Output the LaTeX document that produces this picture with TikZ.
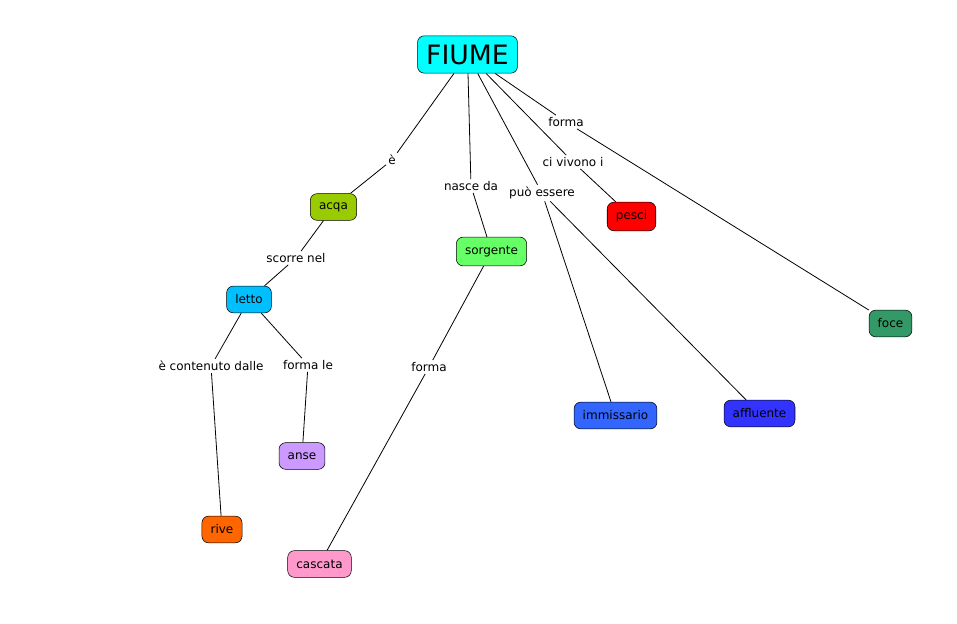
\documentclass[tikz,border=0pt]{standalone}
\usepackage{fontspec}
\setmainfont{DejaVu Sans}

\begin{document}
\begin{tikzpicture}[x=0.75pt,y=-0.75pt]
	\tikzset{ConceptStyle/.style =
		{draw,
			rounded corners = 5pt,
			inner xsep = 6.5pt,
			minimum height = 20pt,
			font = \fontsize{9}{11}\selectfont,
			text = black},
		LinkStyle/.style = {font = \fontsize{9}{11}\selectfont, inner sep = 1.5pt},
		EdgeStyle/.style = {line width = 0.6pt}}
	\useasboundingbox (0,0) rectangle (957,624);
	% concepts
	\node[ConceptStyle, fill={rgb,255:red,0;green,255;blue,255}, font=\fontsize{20}{24}\selectfont,
		minimum width=74pt, minimum height=28pt] (FIUME) at (467.5,54.5) {FIUME};
	\node[ConceptStyle, fill={rgb,255:red,153;green,204;blue,0}] (acqa) at (333.5,207) {acqa};
	\node[ConceptStyle, fill={rgb,255:red,102;green,255;blue,102}, minimum height=21.5pt] (sorgente) at (491.5,251.5) {sorgente};
	\node[ConceptStyle, fill=red, minimum height=21.5pt] (pesci) at (631.5,216.5) {pesci};
	\node[ConceptStyle, fill={rgb,255:red,0;green,191;blue,255}] (letto) at (249,299.5) {letto};
	\node[ConceptStyle, fill={rgb,255:red,51;green,153;blue,102}] (foce) at (890.5,323.5) {foce};
	\node[ConceptStyle, fill={rgb,255:red,51;green,102;blue,255}] (immissario) at (615.5,415.5) {immissario};
	\node[ConceptStyle, fill={rgb,255:red,51;green,51;blue,255}] (affluente) at (759.5,413.5) {affluente};
	\node[ConceptStyle, fill={rgb,255:red,204;green,153;blue,255}] (anse) at (302,456) {anse};
	\node[ConceptStyle, fill={rgb,255:red,255;green,102;blue,0}] (rive) at (222,529.5) {rive};
	\node[ConceptStyle, fill={rgb,255:red,255;green,153;blue,204}] (cascata) at (319.5,564) {cascata};
	% links
	\node[LinkStyle] (lE) at (392,160) {è};
	\node[LinkStyle] (lNasce) at (471,186) {nasce da};
	\node[LinkStyle] (lPuo) at (542,193) {può essere};
	\node[LinkStyle] (lVivono) at (573,162) {ci vivono i};
	\node[LinkStyle] (lForma) at (566,122) {forma};
	\node[LinkStyle] (lScorre) at (296,258) {scorre nel};
	\node[LinkStyle] (lContenuto) at (211,366) {è contenuto dalle};
	\node[LinkStyle] (lFormaLe) at (308,365) {forma le};
	\node[LinkStyle] (lFormaS) at (429,367) {forma};
	% edges
	\draw[EdgeStyle] (FIUME) -- (lE);
	\draw[EdgeStyle] (lE) -- (acqa);
	\draw[EdgeStyle] (FIUME) -- (lNasce);
	\draw[EdgeStyle] (lNasce) -- (sorgente);
	\draw[EdgeStyle] (FIUME) -- (lPuo);
	\draw[EdgeStyle] (lPuo) -- (immissario);
	\draw[EdgeStyle] (lPuo) -- (affluente);
	\draw[EdgeStyle] (FIUME) -- (lVivono);
	\draw[EdgeStyle] (lVivono) -- (pesci);
	\draw[EdgeStyle] (FIUME) -- (lForma);
	\draw[EdgeStyle] (lForma) -- (foce);
	\draw[EdgeStyle] (acqa) -- (lScorre);
	\draw[EdgeStyle] (lScorre) -- (letto);
	\draw[EdgeStyle] (letto) -- (lContenuto);
	\draw[EdgeStyle] (lContenuto) -- (rive);
	\draw[EdgeStyle] (letto) -- (lFormaLe);
	\draw[EdgeStyle] (lFormaLe) -- (anse);
	\draw[EdgeStyle] (sorgente) -- (lFormaS);
	\draw[EdgeStyle] (lFormaS) -- (cascata);
\end{tikzpicture}
\end{document}
